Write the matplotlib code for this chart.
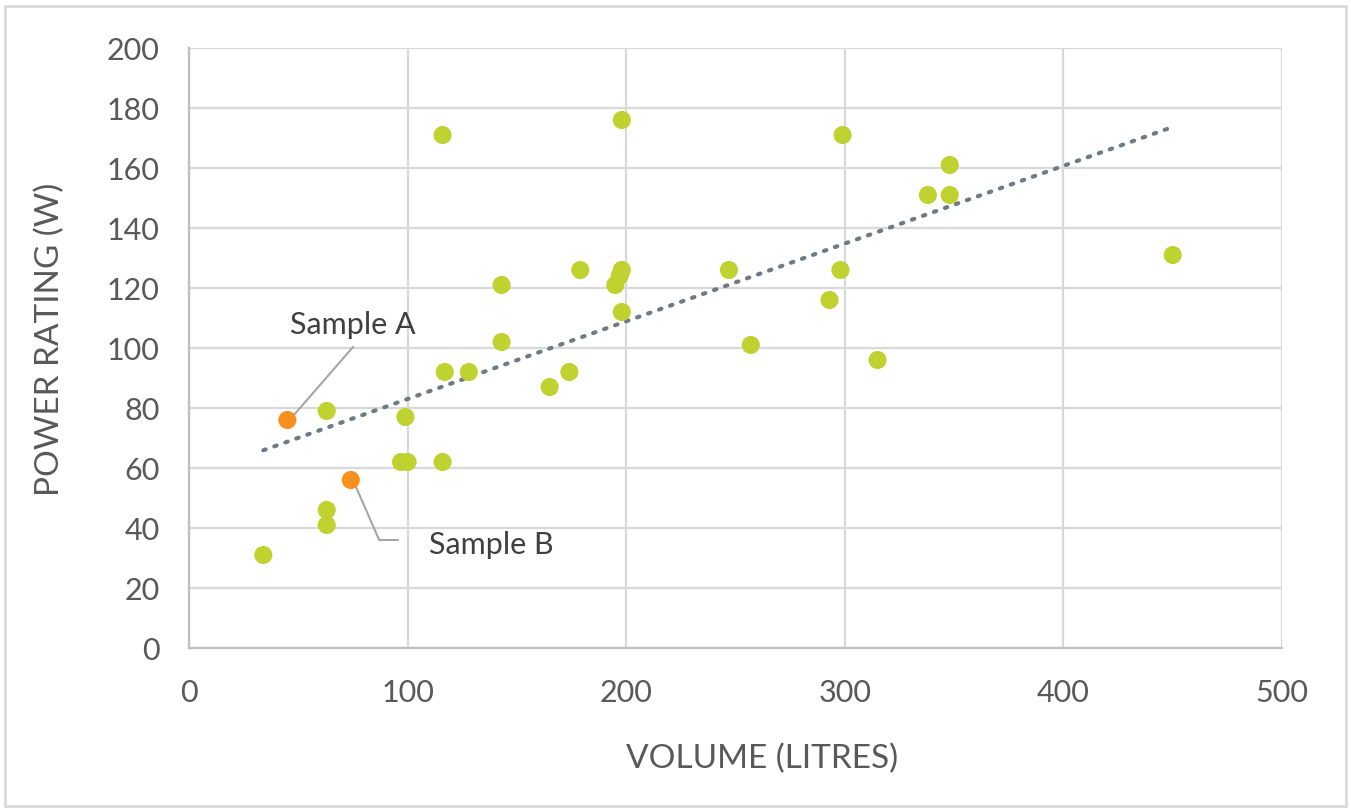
import numpy as np
import matplotlib.pyplot as plt
from matplotlib.patches import Rectangle

# Volume (litres) vs power rating (W)
vol = [34, 63, 63, 63, 97, 100, 116, 99, 117, 128, 116, 198, 143, 179, 198,
       197, 195, 198, 143, 165, 174, 299, 348, 338, 348, 450, 247, 298, 293,
       257, 315]
power = [31, 79, 46, 41, 62, 62, 62, 77, 92, 92, 171, 176, 121, 126, 126,
         124, 121, 112, 102, 87, 92, 171, 161, 151, 151, 131, 126, 126, 116,
         101, 96]

# highlighted samples
sample_names = ["Sample A", "Sample B"]
sample_vol = [45, 74]
sample_power = [76, 56]

GREEN = '#c0d22f'
ORANGE = '#f7901e'
GRID = '#d9d9d9'
TXT = '#595959'


def main():
    plt.rcParams['font.family'] = ['Lato', 'DejaVu Sans']

    W, H = 1351, 809
    fig = plt.figure(figsize=(W / 100, H / 100), dpi=100)
    ax = fig.add_axes([189 / W, 1 - 648 / H, 1093 / W, 600 / H])

    # outer chart border
    fig.patches.append(Rectangle((0.004, 0.004), 0.992, 0.988, transform=fig.transFigure,
                                 fill=False, edgecolor=GRID, linewidth=2))

    # linear trendline over all points
    all_x = np.array(vol + sample_vol, dtype=float)
    all_y = np.array(power + sample_power, dtype=float)
    k, b = np.polyfit(all_x, all_y, 1)
    tx = np.array([all_x.min(), all_x.max()])
    ax.plot(tx, k * tx + b, color='#6e7b85', linewidth=3, linestyle=(0, (0.6, 2.2)),
            dash_capstyle='round', zorder=3)

    ax.scatter(vol, power, s=170, color=GREEN, edgecolors='none', zorder=4)
    ax.scatter(sample_vol, sample_power, s=170, color=ORANGE, edgecolors='none', zorder=5)

    # callouts
    ax.plot([sample_vol[0] + 1, 75], [sample_power[0], 100.3], color='#a6a6a6', lw=1.5, zorder=2)
    ax.text(46, 107.6, sample_names[0], fontsize=22, color='#404040', va='center', ha='left')
    ax.plot([sample_vol[1] + 1, 87, 95.5], [sample_power[1], 36, 36], color='#a6a6a6', lw=1.5, zorder=2)
    ax.text(110, 34.2, sample_names[1], fontsize=22, color='#404040', va='center', ha='left')

    ax.set_xlim(0, 500)
    ax.set_ylim(0, 200)
    ax.set_xticks(np.arange(0, 501, 100))
    ax.set_yticks(np.arange(0, 201, 20))
    ax.grid(True, color=GRID, linewidth=1.6)
    ax.set_axisbelow(True)
    for side in ['top', 'right']:
        ax.spines[side].set_visible(False)
    for side in ['left', 'bottom']:
        ax.spines[side].set_color('#bfbfbf')
        ax.spines[side].set_linewidth(1.6)
    ax.tick_params(length=0, labelsize=22, colors=TXT)
    ax.tick_params(axis='y', pad=21)
    ax.tick_params(axis='x', pad=22)

    # axis titles
    fig.text(762 / W, 1 - 759 / H, 'VOLUME (LITRES)', fontsize=24, color=TXT,
             ha='center', va='center')
    fig.text(50 / W, 1 - 339 / H, 'POWER RATING (W)', fontsize=24, color=TXT,
             ha='center', va='center', rotation=90)

    fig.savefig('out.png', dpi=100)
    plt.close(fig)


if __name__ == "__main__":
    main()
